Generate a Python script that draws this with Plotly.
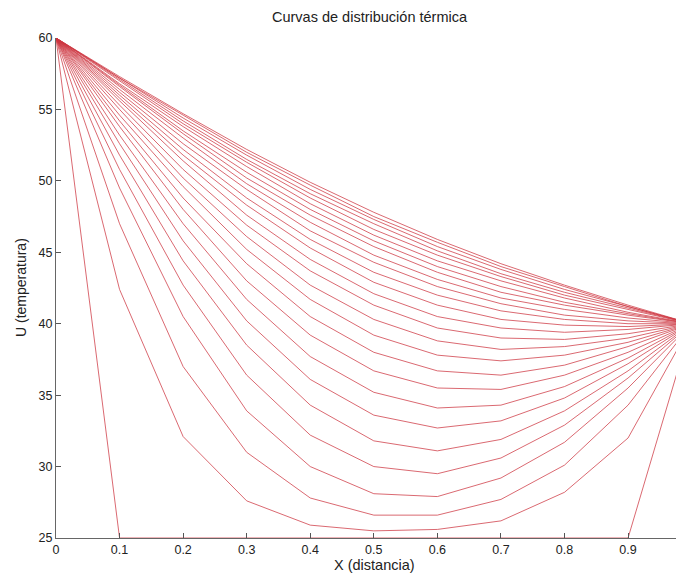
import plotly.graph_objects as go

x_vals = [0.0, 0.1, 0.2, 0.3, 0.4, 0.5, 0.6, 0.7, 0.8, 0.9, 1.0]

# boundary temperatures
u_left = 60
u_right = 40

# interior temperatures (x = 0.1 ... 0.9) of each plotted curve
interior = [
    [25.0, 25.0, 25.0, 25.0, 25.0, 25.0, 25.0, 25.0, 25.0],
    [42.4, 32.1, 27.6, 25.9, 25.5, 25.6, 26.2, 28.2, 32.0],
    [47.0, 37.0, 31.0, 27.8, 26.6, 26.6, 27.7, 30.1, 34.3],
    [49.5, 40.5, 33.9, 30.0, 28.1, 27.9, 29.2, 31.7, 35.5],
    [50.8, 42.7, 36.4, 32.2, 30.0, 29.5, 30.6, 32.9, 36.2],
    [51.8, 44.4, 38.5, 34.3, 31.8, 31.1, 31.9, 33.9, 36.7],
    [52.6, 45.8, 40.2, 36.1, 33.6, 32.7, 33.2, 34.8, 37.2],
    [53.2, 47.0, 41.7, 37.7, 35.2, 34.1, 34.3, 35.6, 37.6],
    [53.8, 48.0, 43.0, 39.2, 36.7, 35.5, 35.4, 36.4, 38.0],
    [54.2, 48.8, 44.2, 40.5, 38.0, 36.7, 36.4, 37.1, 38.4],
    [54.6, 49.6, 45.2, 41.7, 39.2, 37.8, 37.4, 37.8, 38.7],
    [55.0, 50.2, 46.1, 42.7, 40.3, 38.8, 38.2, 38.4, 39.0],
    [55.3, 50.8, 46.9, 43.7, 41.3, 39.7, 39.0, 38.9, 39.3],
    [55.6, 51.4, 47.6, 44.5, 42.1, 40.5, 39.7, 39.4, 39.6],
    [55.8, 51.8, 48.3, 45.3, 42.9, 41.3, 40.3, 39.9, 39.8],
    [56.0, 52.2, 48.8, 45.9, 43.6, 42.0, 40.9, 40.3, 40.0],
    [56.2, 52.6, 49.4, 46.5, 44.3, 42.6, 41.4, 40.6, 40.2],
    [56.4, 53.0, 49.8, 47.1, 44.8, 43.1, 41.8, 41.0, 40.4],
    [56.6, 53.3, 50.2, 47.6, 45.4, 43.6, 42.2, 41.3, 40.6],
    [56.7, 53.5, 50.6, 48.0, 45.8, 44.0, 42.6, 41.5, 40.7],
    [56.8, 53.8, 51.0, 48.4, 46.2, 44.4, 43.0, 41.8, 40.8],
    [57.0, 54.0, 51.3, 48.8, 46.6, 44.8, 43.3, 42.0, 41.0],
    [57.1, 54.2, 51.5, 49.1, 47.0, 45.1, 43.5, 42.2, 41.1],
    [57.2, 54.4, 51.8, 49.4, 47.3, 45.4, 43.8, 42.4, 41.2],
    [57.2, 54.6, 52.0, 49.7, 47.5, 45.7, 44.0, 42.6, 41.2],
    [57.3, 54.7, 52.2, 49.9, 47.8, 45.9, 44.2, 42.7, 41.3],
]

x_ticks = [0, 0.1, 0.2, 0.3, 0.4, 0.5, 0.6, 0.7, 0.8, 0.9]
x_ticktext = ["0", "0.1", "0.2", "0.3", "0.4", "0.5", "0.6", "0.7", "0.8", "0.9"]
y_ticks = [25, 30, 35, 40, 45, 50, 55, 60]

fig = go.Figure()
for row in interior:
    fig.add_trace(go.Scatter(x=x_vals, y=[u_left] + row + [u_right], mode="lines",
                             line=dict(color="rgb(205,55,65)", width=0.75),
                             showlegend=False, hoverinfo="skip"))

font = "Liberation Sans, Arial, sans-serif"
fig.update_layout(
    width=676, height=568,
    margin=dict(l=48, r=0, t=30, b=38, pad=0),
    paper_bgcolor="white", plot_bgcolor="white",
    font=dict(family=font, size=12, color="#222"),
    xaxis=dict(range=[0, 0.988], tickvals=x_ticks, ticktext=x_ticktext,
               ticks="inside", ticklen=5, tickcolor="#555", showline=True,
               linecolor="#666", linewidth=1, showgrid=False, zeroline=False,
               tickfont=dict(size=12.5)),
    yaxis=dict(range=[25, 60], tickvals=y_ticks, ticks="inside", ticklen=5,
               tickcolor="#555", showline=True, linecolor="#666", linewidth=1,
               showgrid=False, zeroline=False, tickfont=dict(size=12.5)),
    annotations=[
        dict(text="Curvas de distribución térmica", xref="paper", yref="paper",
             x=0.5, y=1, yshift=21, xanchor="center", yanchor="middle",
             showarrow=False, font=dict(size=14.5, color="#222")),
        dict(text="X (distancia)", xref="paper", yref="paper",
             x=0.5, y=0, xshift=4, yshift=-27, xanchor="center", yanchor="middle",
             showarrow=False, font=dict(size=14.5, color="#222")),
        dict(text="U (temperatura)", xref="paper", yref="paper", textangle=-90,
             x=0, y=0.5, xshift=-35, xanchor="center", yanchor="middle",
             showarrow=False, font=dict(size=14, color="#222")),
    ],
)

fig.write_html("out.html")
